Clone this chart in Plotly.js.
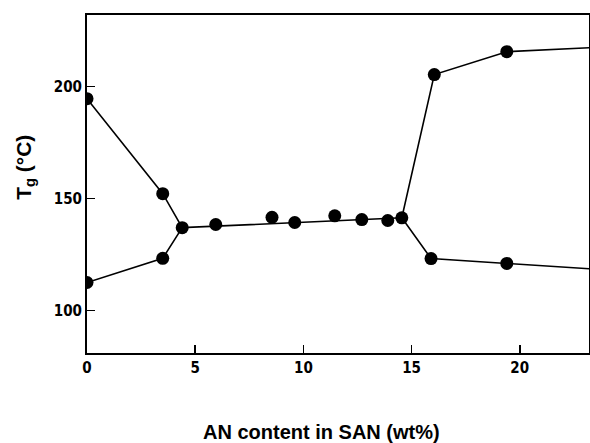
<!DOCTYPE html>
<html>
<head>
<meta charset="utf-8">
<script src="https://cdn.plot.ly/plotly-3.0.1.min.js"></script>
<style>html,body{margin:0;padding:0;background:#fff;}#chart{width:590px;height:443px;}</style>
</head>
<body>
<div id="chart"></div>
<script>
// Measured Tg values (AN content wt%, Tg °C)
const anContent = [0, 3.5, 0, 3.5, 4.4, 5.95, 8.55, 9.6, 11.45, 12.7, 13.9, 14.55, 16.05, 19.4, 15.9, 19.4];
const tgValues  = [194.6, 152.2, 112.5, 123.3, 137.0, 138.4, 141.6, 139.3, 142.3, 140.6, 140.2, 141.4, 205.4, 215.6, 123.2, 121.0];

// Guide lines drawn through the data
const upperLineX = [0, 3.5, 4.4, 14.55, 16.05, 19.4, 23.3];
const upperLineY = [194.6, 152.2, 137.0, 141.4, 205.4, 215.6, 217.4];
const lowerLeftX = [0, 3.5, 4.4];
const lowerLeftY = [112.5, 123.3, 137.0];
const lowerRightX = [14.55, 15.9, 19.4, 23.3];
const lowerRightY = [141.4, 123.2, 121.0, 118.6];

const xTicks = [0, 5, 10, 15, 20];
const yTicks = [100, 150, 200];

const lineStyle = {color: '#000', width: 1.6};
const traces = [
  {x: upperLineX, y: upperLineY, mode: 'lines', line: lineStyle, hoverinfo: 'skip'},
  {x: lowerLeftX, y: lowerLeftY, mode: 'lines', line: lineStyle, hoverinfo: 'skip'},
  {x: lowerRightX, y: lowerRightY, mode: 'lines', line: lineStyle, hoverinfo: 'skip'},
  {x: anContent, y: tgValues, mode: 'markers', marker: {color: '#000', size: 13}}
];

const tickFont = {family: 'DejaVu Sans Condensed', size: 15, color: '#000', weight: 'bold'};
const layout = {
  width: 590, height: 443,
  margin: {l: 87, r: 1, t: 15, b: 90},
  paper_bgcolor: '#fff', plot_bgcolor: '#fff',
  showlegend: false,
  xaxis: {
    range: [0, 23.2], tickvals: xTicks, ticktext: xTicks.map(String),
    ticks: 'inside', ticklen: 8, tickwidth: 1.5, tickcolor: '#000',
    showline: true, linewidth: 2, linecolor: '#000', mirror: true,
    showgrid: false, zeroline: false, tickfont: tickFont
  },
  yaxis: {
    range: [81, 232], tickvals: yTicks, ticktext: yTicks.map(String),
    ticks: 'inside', ticklen: 8, tickwidth: 1.5, tickcolor: '#000',
    showline: true, linewidth: 2, linecolor: '#000', mirror: true,
    showgrid: false, zeroline: false, tickfont: tickFont
  },
  annotations: [
    {text: '<b>AN content in SAN (wt%)</b>', xref: 'paper', yref: 'paper',
     x: 0.468, y: -0.234, xanchor: 'center', yanchor: 'middle', showarrow: false,
     font: {family: 'Liberation Sans', size: 20, color: '#000'}},
    {text: '<b>T<sub>g</sub> (°C)</b>', xref: 'paper', yref: 'paper',
     x: -0.124, y: 0.55, xanchor: 'center', yanchor: 'middle', showarrow: false, textangle: -90,
     font: {family: 'Liberation Sans', size: 21, color: '#000'}}
  ]
};
Plotly.newPlot('chart', traces, layout, {displayModeBar: false, staticPlot: true});
</script>
</body>
</html>
